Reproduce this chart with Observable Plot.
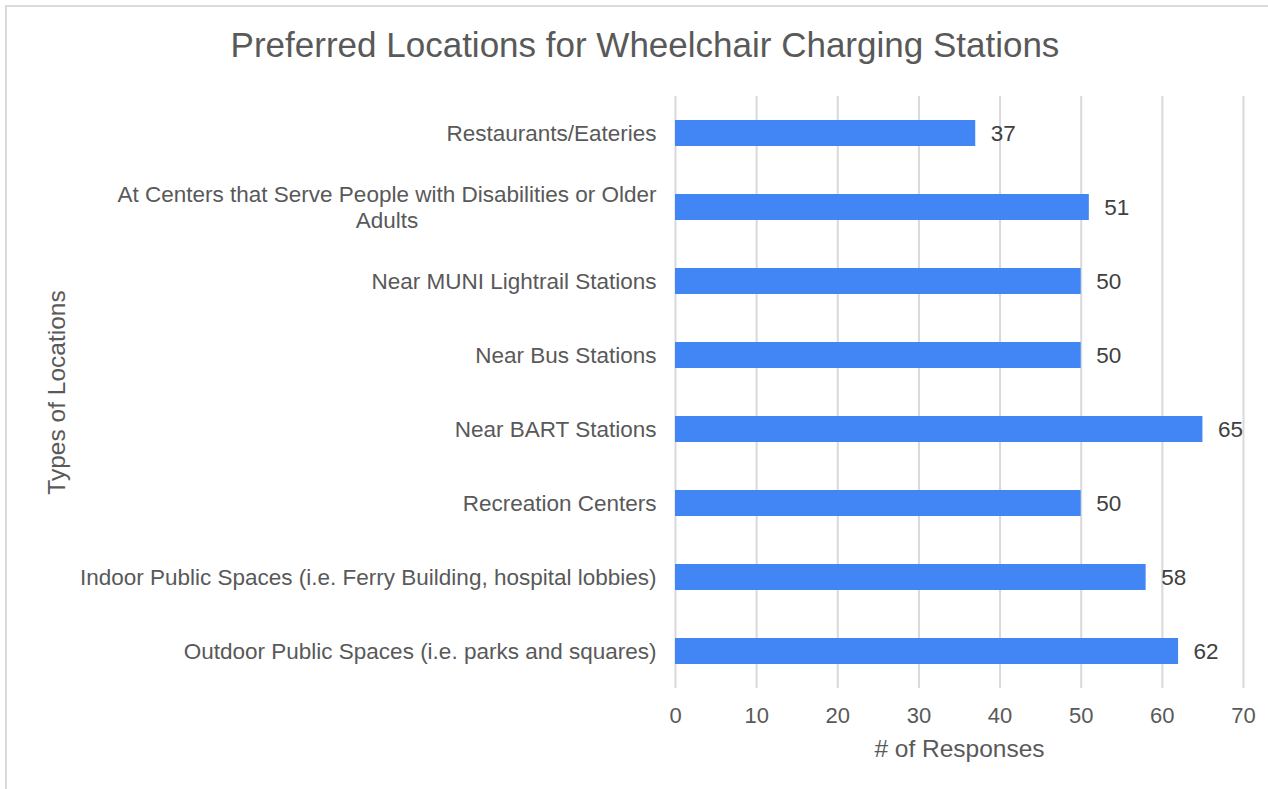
<!DOCTYPE html>
<html>
<head>
<meta charset="utf-8">
<script src="https://cdn.jsdelivr.net/npm/d3@7"></script>
<script src="https://cdn.jsdelivr.net/npm/@observablehq/plot@0.6"></script>
<style>
  html, body { margin: 0; padding: 0; background: #fff; }
  #wrap { position: relative; width: 1268px; height: 789px; overflow: hidden; font-family: "Liberation Sans", Arial, sans-serif; }
  #frame { position: absolute; left: 5px; top: 5px; width: 1300px; height: 900px; border-left: 2px solid #dadada; border-top: 2px solid #dadada; box-sizing: border-box; }
  #title { position: absolute; left: 0; width: 1290px; top: 27px; line-height: 35px; text-align: center; font-size: 35px; color: #595959; white-space: nowrap; }
  #chart { position: absolute; left: 0; top: 0; }
</style>
</head>
<body>
<div id="wrap">
  <div id="frame"></div>
  <div id="chart"></div>
  <div id="title">Preferred Locations for Wheelchair Charging Stations</div>
</div>
<script>
const categories = [
  "Restaurants/Eateries",
  "At Centers that Serve People with Disabilities or Older Adults",
  "Near MUNI Lightrail Stations",
  "Near Bus Stations",
  "Near BART Stations",
  "Recreation Centers",
  "Indoor Public Spaces (i.e. Ferry Building, hospital lobbies)",
  "Outdoor Public Spaces (i.e. parks and squares)"
];
const responses = [37, 51, 50, 50, 65, 50, 58, 62];
const xTicks = [0, 10, 20, 30, 40, 50, 60, 70];
const xLabel = "# of Responses";
const yLabel = "Types of Locations";
// display wrapping of the long category label
const wrapped = {"At Centers that Serve People with Disabilities or Older Adults": "At Centers that Serve People with Disabilities or Older\nAdults"};

const data = categories.map((c, i) => ({category: c, value: responses[i]}));
const single = data.filter(d => !wrapped[d.category]);
const multi = data.filter(d => wrapped[d.category]).map(d => ({...d, text: wrapped[d.category]}));

const FS = 22.5;
const ctx = document.createElement("canvas").getContext("2d");
ctx.font = `${FS}px 'Liberation Sans', Arial, sans-serif`;
const firstLineW = multi.length ? ctx.measureText(multi[0].text.split("\n")[0]).width : 0;

const labelGap = 19;

const plot = Plot.plot({
  width: 1268,
  height: 789,
  marginLeft: 675,
  marginRight: 25,
  marginTop: 96,
  marginBottom: 101,
  style: {fontFamily: "'Liberation Sans', Arial, sans-serif", fontSize: FS + "px", background: "transparent", color: "#595959"},
  x: {domain: [0, 70]},
  y: {domain: categories, paddingInner: 0.65, paddingOuter: 0.325},
  marks: [
    Plot.gridX(xTicks, {stroke: "#d9d9d9", strokeWidth: 2, strokeOpacity: 1}),
    Plot.barX(data, {x: "value", y: "category", fill: "#4285f4"}),
    Plot.text(data, {x: "value", y: "category", text: d => String(d.value), textAnchor: "start", dx: 15, fill: "#404040", fontSize: FS}),
    Plot.axisX({ticks: xTicks, tickSize: 0, tickPadding: 19, label: null, fill: "#595959", fontSize: 22}),
    Plot.axisY({ticks: [], label: null, tickSize: 0}),
    Plot.text(single, {x: () => 0, y: "category", text: "category", textAnchor: "end", dx: -labelGap, fill: "#595959", fontSize: FS}),
    Plot.text(multi, {x: () => 0, y: "category", text: "text", textAnchor: "middle", dx: -labelGap - firstLineW / 2, dy: -1, lineHeight: 1.17, fill: "#595959", fontSize: FS}),
    Plot.text([xLabel], {frameAnchor: "bottom", text: d => d, dy: 68, fill: "#595959", fontSize: 24.5}),
    Plot.text([yLabel], {frameAnchor: "left", textAnchor: "middle", text: d => d, rotate: -90, dx: -618, fill: "#595959", fontSize: 24.5})
  ]
});
document.getElementById("chart").appendChild(plot);
</script>
</body>
</html>
